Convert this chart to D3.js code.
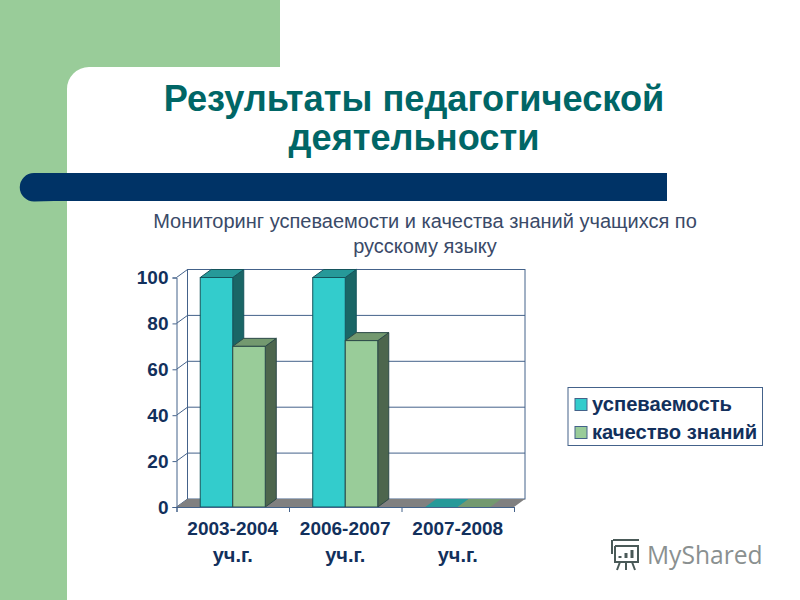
<!DOCTYPE html>
<html>
<head>
<meta charset="utf-8">
<script src="https://cdnjs.cloudflare.com/ajax/libs/d3/7.8.5/d3.min.js"></script>
<style>
  html, body { margin: 0; padding: 0; background: #fff; }
  text { font-family: "Liberation Sans", Arial, sans-serif; }
</style>
</head>
<body>
<svg id="slide" width="800" height="600"></svg>
<script>
const titleLines = ['Результаты педагогической', 'деятельности'];
const subtitleLines = ['Мониторинг успеваемости и качества знаний учащихся по', 'русскому языку'];
const categories = ['2003-2004', '2006-2007', '2007-2008'];
const categorySuffix = 'уч.г.';
const seriesNames = ['успеваемость', 'качество знаний'];
const uspevaemost = [100, 100, 0];
const kachestvo = [70, 72.5, 0];
const yTicks = [0, 20, 40, 60, 80, 100];

const color = {
  green: '#99cc99',
  navy: '#003366',
  title: '#006666',
  subtitle: '#3a4a68',
  label: '#12305c',
  grid: '#44628a',
  floor: '#808080',
};
const seriesColors = [
  { front: '#33cccc', top: '#269999', side: '#1a6666', edge: '#14545c' },
  { front: '#99cc99', top: '#73996f', side: '#4d664d', edge: '#2c4a48' },
];

const svg = d3.select('#slide');

// Slide background
svg.append('rect').attr('width', 67).attr('height', 600).attr('fill', color.green);
svg.append('rect').attr('width', 280).attr('height', 67).attr('fill', color.green);
svg.append('path')
  .attr('d', 'M67,67 h22 a22,22 0 0 0 -22,22 z')
  .attr('fill', color.green);
svg.append('path')
  .attr('d', 'M54,173 H667 V201 H54 L34,201.5 a14,14 0 0 1 0,-28.5 z')
  .attr('fill', color.navy);

svg.selectAll('text.title')
  .data(titleLines)
  .join('text')
  .attr('class', 'title')
  .attr('x', 414)
  .attr('y', (d, i) => 111 + i * 39)
  .attr('text-anchor', 'middle')
  .attr('font-size', 36.2)
  .attr('font-weight', 'bold')
  .attr('fill', color.title)
  .text(d => d);

svg.selectAll('text.subtitle')
  .data(subtitleLines)
  .join('text')
  .attr('class', 'subtitle')
  .attr('x', 425)
  .attr('y', (d, i) => 228 + i * 25)
  .attr('text-anchor', 'middle')
  .attr('font-size', 20)
  .attr('fill', color.subtitle)
  .text(d => d);

// Chart
const left = 176.5, right = 514, bottom = 507, top100 = 277.5;
const depthX = 11, depthY = 8;

const x = d3.scaleBand().domain(categories).range([left, right]);
const y = d3.scaleLinear().domain([0, 100]).range([bottom, top100]);
const barX = d3.scaleBand().domain([0, 1]).range([0, x.bandwidth()]).paddingOuter(0.73).paddingInner(0);

const chart = svg.append('g');

// Walls and gridlines
chart.append('rect')
  .attr('x', left + depthX).attr('y', y(100) - depthY)
  .attr('width', right - left).attr('height', bottom - y(100))
  .attr('fill', '#fff').attr('stroke', color.grid);

chart.selectAll('path.grid')
  .data(yTicks.slice(1, -1))
  .join('path')
  .attr('class', 'grid')
  .attr('d', d => `M${left},${y(d)} l${depthX},${-depthY} H${right + depthX}`)
  .attr('fill', 'none')
  .attr('stroke', color.grid);

chart.append('path')
  .attr('d', `M${left},${y(100)} l${depthX},${-depthY}`)
  .attr('stroke', color.grid);
chart.append('path')
  .attr('d', `M${left},${bottom} l${depthX},${-depthY} V${y(100) - depthY}`)
  .attr('fill', 'none')
  .attr('stroke', color.grid);

// Floor
chart.append('path')
  .attr('d', `M${left},${bottom} H${right} l${depthX},${-depthY} H${left + depthX} z`)
  .attr('fill', color.floor);

// Bars
[uspevaemost, kachestvo].forEach((values, s) => {
  const c = seriesColors[s];
  const g = chart.append('g').selectAll('g')
    .data(values)
    .join('g')
    .attr('transform', (d, i) => `translate(${x(categories[i]) + barX(s)},0)`);
  const w = barX.bandwidth();

  g.append('path')
    .attr('d', d => `M${w},${y(d)} l${depthX},${-depthY} V${bottom - depthY} l${-depthX},${depthY} z`)
    .attr('fill', c.side)
    .attr('stroke', d => d > 0 ? c.edge : 'none');
  g.append('path')
    .attr('d', d => `M0,${y(d)} l${depthX},${-depthY} h${w} l${-depthX},${depthY} z`)
    .attr('fill', c.top)
    .attr('stroke', d => d > 0 ? c.edge : 'none');
  g.append('rect')
    .attr('y', d => y(d))
    .attr('width', w)
    .attr('height', d => bottom - y(d))
    .attr('fill', c.front)
    .attr('stroke', d => d > 0 ? c.edge : 'none');
});

// Axes
const yAxis = chart.append('g')
  .attr('transform', `translate(${left},0)`)
  .call(d3.axisLeft(y).tickValues(yTicks).tickSize(4).tickPadding(4));
const xAxis = chart.append('g')
  .attr('transform', `translate(0,${bottom})`)
  .call(d3.axisBottom(d3.scaleLinear().domain([0, 3]).range([left, right])).ticks(3).tickSize(5).tickFormat(''));

[yAxis, xAxis].forEach(a => {
  a.selectAll('path, line').attr('stroke', color.grid);
  a.select('.domain').attr('stroke', color.grid);
});
yAxis.selectAll('text')
  .attr('font-size', 19)
  .attr('font-weight', 'bold')
  .attr('font-family', '"Liberation Sans", Arial, sans-serif')
  .attr('fill', color.label);

chart.selectAll('text.cat')
  .data(categories)
  .join('text')
  .attr('class', 'cat')
  .attr('x', d => x(d) + x.bandwidth() / 2)
  .attr('y', 535)
  .attr('text-anchor', 'middle')
  .attr('font-size', 19)
  .attr('font-weight', 'bold')
  .attr('fill', color.label)
  .text(d => d);
chart.selectAll('text.cat2')
  .data(categories)
  .join('text')
  .attr('class', 'cat2')
  .attr('x', d => x(d) + x.bandwidth() / 2)
  .attr('y', 562)
  .attr('text-anchor', 'middle')
  .attr('font-size', 20)
  .attr('font-weight', 'bold')
  .attr('fill', color.label)
  .text(categorySuffix);

// Legend
const legend = svg.append('g').attr('transform', 'translate(568,387.5)');
legend.append('rect')
  .attr('width', 194.5).attr('height', 58)
  .attr('fill', '#fff').attr('stroke', color.grid);
const item = legend.selectAll('g')
  .data(seriesNames)
  .join('g')
  .attr('transform', (d, i) => `translate(7,${11 + i * 28})`);
item.append('rect')
  .attr('width', 12).attr('height', 12)
  .attr('fill', (d, i) => seriesColors[i].front)
  .attr('stroke', color.grid);
item.append('text')
  .attr('x', 17).attr('y', 12)
  .attr('font-size', 20.2)
  .attr('font-weight', 'bold')
  .attr('fill', color.label)
  .text(d => d);

// Watermark
const mark = svg.append('g')
  .attr('transform', 'translate(608,538)')
  .attr('fill', 'none')
  .attr('stroke', '#4a5a58')
  .attr('stroke-width', 2);
mark.append('path').attr('d', 'M5,2 H31 M4,2 V16 M7,8 H30 V24 H7 V8 M12,24 L9,32 M18,24 V32 M24,24 L27,32');
mark.append('path').attr('d', 'M12,20 V18 M18,20 V15 M24,20 V12').attr('stroke-width', 3);
svg.append('text')
  .attr('x', 647)
  .attr('y', 564)
  .attr('font-size', 24.6)
  .attr('fill', '#8a9090')
  .style('font-family', '"Open Sans", sans-serif')
  .text('MyShared');
</script>
</body>
</html>
